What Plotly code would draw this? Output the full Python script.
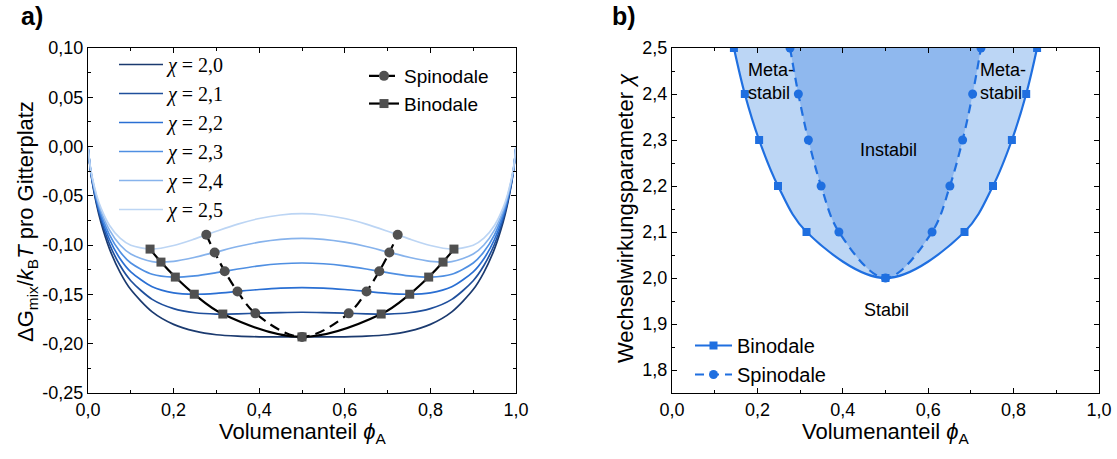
import plotly.graph_objects as go

# ---------------- Panel a: free energy of mixing ----------------
phi = [0, 0.005, 0.01, 0.02, 0.03, 0.05, 0.075, 0.1, 0.15, 0.2, 0.25, 0.3, 0.35, 0.4, 0.45, 0.5,
       0.55, 0.6, 0.65, 0.7, 0.75, 0.8, 0.85, 0.9, 0.925, 0.95, 0.97, 0.98, 0.99, 0.995, 1.0]

g_20 = [0, -0.0215, -0.0362, -0.0588, -0.0765, -0.1035, -0.1276, -0.1451, -0.1677, -0.1804, -0.1873,
        -0.1909, -0.1924, -0.1930, -0.1931, -0.1931, -0.1931, -0.1930, -0.1924, -0.1909, -0.1873,
        -0.1804, -0.1677, -0.1451, -0.1276, -0.1035, -0.0765, -0.0588, -0.0362, -0.0215, 0]
g_21 = [0, -0.0210, -0.0352, -0.0569, -0.0736, -0.0988, -0.1207, -0.1361, -0.1550, -0.1644, -0.1686,
        -0.1699, -0.1697, -0.1690, -0.1684, -0.1681, -0.1684, -0.1690, -0.1697, -0.1699, -0.1686,
        -0.1644, -0.1550, -0.1361, -0.1207, -0.0988, -0.0736, -0.0569, -0.0352, -0.0210, 0]
g_22 = [0, -0.0205, -0.0342, -0.0549, -0.0707, -0.0940, -0.1138, -0.1271, -0.1422, -0.1484, -0.1498,
        -0.1489, -0.1469, -0.1450, -0.1436, -0.1431, -0.1436, -0.1450, -0.1469, -0.1489, -0.1498,
        -0.1484, -0.1422, -0.1271, -0.1138, -0.0940, -0.0707, -0.0549, -0.0342, -0.0205, 0]
g_23 = [0, -0.0200, -0.0332, -0.0530, -0.0678, -0.0893, -0.1068, -0.1181, -0.1295, -0.1324, -0.1311,
        -0.1279, -0.1242, -0.1210, -0.1189, -0.1181, -0.1189, -0.1210, -0.1242, -0.1279, -0.1311,
        -0.1324, -0.1295, -0.1181, -0.1068, -0.0893, -0.0678, -0.0530, -0.0332, -0.0200, 0]
g_24 = [0, -0.0195, -0.0322, -0.0510, -0.0649, -0.0845, -0.0999, -0.1091, -0.1167, -0.1164, -0.1123,
        -0.1069, -0.1014, -0.0970, -0.0941, -0.0931, -0.0941, -0.0970, -0.1014, -0.1069, -0.1123,
        -0.1164, -0.1167, -0.1091, -0.0999, -0.0845, -0.0649, -0.0510, -0.0322, -0.0195, 0]
g_25 = [0, -0.0190, -0.0313, -0.0490, -0.0620, -0.0798, -0.0929, -0.1001, -0.1040, -0.1004, -0.0936,
        -0.0859, -0.0787, -0.0730, -0.0694, -0.0681, -0.0694, -0.0730, -0.0787, -0.0859, -0.0936,
        -0.1004, -0.1040, -0.1001, -0.0929, -0.0798, -0.0620, -0.0490, -0.0313, -0.0190, 0]

chi_labels = ["2,0", "2,1", "2,2", "2,3", "2,4", "2,5"]
chi_curves = [g_20, g_21, g_22, g_23, g_24, g_25]
chi_colors = ["#1b3a6f", "#1f4f9c", "#2a6fd3", "#4f8fe2", "#87b3ec", "#bcd5f4"]

# Binodal / spinodal points on the curves
bin_phi = [0.145, 0.1705, 0.204, 0.2483, 0.315, 0.5, 0.685, 0.7517, 0.796, 0.8295, 0.855]
bin_g = [-0.1040, -0.1172, -0.1324, -0.1498, -0.1699, -0.1931, -0.1699, -0.1498, -0.1324, -0.1172, -0.1040]
spin_phi = [0.2764, 0.2959, 0.3194, 0.3492, 0.3909, 0.5, 0.6091, 0.6508, 0.6806, 0.7041, 0.7236]
spin_g = [-0.0895, -0.1074, -0.1264, -0.1470, -0.1692, -0.1931, -0.1692, -0.1470, -0.1264, -0.1074, -0.0895]

# ---------------- Panel b: phase diagram ----------------
bin_chi = [2.5, 2.4, 2.3, 2.2, 2.1, 2.0, 2.1, 2.2, 2.3, 2.4, 2.5]
spin_chi = [2.5, 2.4, 2.3, 2.2, 2.1, 2.0, 2.1, 2.2, 2.3, 2.4, 2.5]

# Tick labels
x_tickvals = [0, 0.2, 0.4, 0.6, 0.8, 1.0]
x_ticktext = ["0,0", "0,2", "0,4", "0,6", "0,8", "1,0"]
ya_tickvals = [-0.25, -0.20, -0.15, -0.10, -0.05, 0.0, 0.05, 0.10]
ya_ticktext = ["-0,25", "-0,20", "-0,15", "-0,10", "-0,05", "0,00", "0,05", "0,10"]
yb_tickvals = [1.8, 1.9, 2.0, 2.1, 2.2, 2.3, 2.4, 2.5]
yb_ticktext = ["1,8", "1,9", "2,0", "2,1", "2,2", "2,3", "2,4", "2,5"]

SANS = "Arial, Liberation Sans, sans-serif"
SERIF = "Times New Roman, Liberation Serif, serif"
GRAY = "#505050"
BLUE = "#1f6fe0"

fig = go.Figure()

for lab, g, col in zip(chi_labels, chi_curves, chi_colors):
    fig.add_trace(go.Scatter(
        x=phi, y=g, mode="lines", name=f"<i>χ</i> = {lab}",
        line=dict(color=col, width=1.7, shape="spline", smoothing=0.8),
        xaxis="x", yaxis="y", legend="legend"))

fig.add_trace(go.Scatter(
    x=spin_phi, y=spin_g, mode="lines+markers", name="Spinodale",
    line=dict(color="black", width=2.2, dash="10px,6px", shape="spline"),
    marker=dict(symbol="circle", size=10, color=GRAY),
    xaxis="x", yaxis="y", legend="legend2"))
fig.add_trace(go.Scatter(
    x=bin_phi, y=bin_g, mode="lines+markers", name="Binodale",
    line=dict(color="black", width=2.2, shape="spline"),
    marker=dict(symbol="square", size=9, color=GRAY),
    xaxis="x", yaxis="y", legend="legend2"))

# Panel b: shaded regions
fig.add_trace(go.Scatter(
    x=bin_phi, y=bin_chi, mode="lines", fill="toself", fillcolor="#bcd6f5",
    line=dict(width=0, shape="spline"), showlegend=False, hoverinfo="skip",
    xaxis="x2", yaxis="y2"))
fig.add_trace(go.Scatter(
    x=spin_phi, y=spin_chi, mode="lines", fill="toself", fillcolor="#8fb8ee",
    line=dict(width=0, shape="spline"), showlegend=False, hoverinfo="skip",
    xaxis="x2", yaxis="y2"))
fig.add_trace(go.Scatter(
    x=bin_phi, y=bin_chi, mode="lines+markers", name="Binodale",
    line=dict(color=BLUE, width=2.2, shape="spline"),
    marker=dict(symbol="square", size=8, color=BLUE),
    xaxis="x2", yaxis="y2", legend="legend3"))
fig.add_trace(go.Scatter(
    x=spin_phi, y=spin_chi, mode="lines+markers", name="Spinodale",
    line=dict(color=BLUE, width=2.2, dash="9px,6px", shape="spline"),
    marker=dict(symbol="circle", size=9, color=BLUE),
    xaxis="x2", yaxis="y2", legend="legend3"))

W, H = 1117, 459


def px(x):
    return x / W


def py(y):
    return 1 - y / H


axis_common = dict(
    showline=True, linecolor="black", linewidth=1.3, mirror="ticks",
    ticks="inside", ticklen=5, tickwidth=1.2, tickcolor="black",
    showgrid=False, zeroline=False, automargin=False,
    tickfont=dict(family=SANS, size=18, color="black"),
)

fig.update_layout(
    width=W, height=H,
    margin=dict(l=0, r=0, t=0, b=0, pad=0, autoexpand=False),
    paper_bgcolor="white", plot_bgcolor="white",
    font=dict(family=SANS, color="black"),
    xaxis=dict(domain=[px(88), px(516)], range=[0, 1], anchor="y",
               tickvals=x_tickvals, ticktext=x_ticktext,
               minor=dict(ticks="inside", ticklen=3, dtick=0.1, tickcolor="black"),
               **axis_common),
    yaxis=dict(domain=[py(393), py(48)], range=[-0.25, 0.10], anchor="x",
               tickvals=ya_tickvals, ticktext=ya_ticktext,
               minor=dict(ticks="inside", ticklen=3, dtick=0.025, tickcolor="black"),
               **axis_common),
    xaxis2=dict(domain=[px(672), px(1099)], range=[0, 1], anchor="y2",
                tickvals=x_tickvals, ticktext=x_ticktext,
                minor=dict(ticks="inside", ticklen=3, dtick=0.1, tickcolor="black"),
                **axis_common),
    yaxis2=dict(domain=[py(393), py(48)], range=[1.75, 2.5], anchor="x2",
                tickvals=yb_tickvals, ticktext=yb_ticktext,
                minor=dict(ticks="inside", ticklen=3, dtick=0.05, tickcolor="black"),
                **axis_common),
    legend=dict(x=px(114), y=py(45), xanchor="left", yanchor="top",
                bgcolor="rgba(0,0,0,0)", font=dict(family=SERIF, size=20),
                itemwidth=44, tracegroupgap=0),
    legend2=dict(x=px(364), y=py(57), xanchor="left", yanchor="top",
                 bgcolor="rgba(0,0,0,0)", font=dict(family=SANS, size=19)),
    legend3=dict(x=px(690), y=py(326), xanchor="left", yanchor="top",
                 bgcolor="rgba(0,0,0,0)", font=dict(family=SANS, size=20),
                 itemwidth=37),
)

annotations = [
    dict(text="<b>a)</b>", x=px(19), y=py(16), xanchor="left", yanchor="middle",
         font=dict(size=25)),
    dict(text="<b>b)</b>", x=px(610), y=py(16), xanchor="left", yanchor="middle",
         font=dict(size=25)),
    dict(text="Volumenanteil <i>ϕ</i><sub>A</sub>", x=px(303), y=py(433),
         xanchor="center", yanchor="middle", font=dict(size=22)),
    dict(text="Volumenanteil <i>ϕ</i><sub>A</sub>", x=px(886), y=py(433),
         xanchor="center", yanchor="middle", font=dict(size=22)),
    dict(text="ΔG<sub>mix</sub>/<i>k</i><sub>B</sub><i>T</i> pro Gitterplatz",
         x=px(27), y=py(222), xanchor="center", yanchor="middle", textangle=-90,
         font=dict(size=22)),
    dict(text="Wechselwirkungsparameter <i>χ</i>", x=px(626), y=py(218),
         xanchor="center", yanchor="middle", textangle=-90, font=dict(size=22)),
    dict(text="Meta-<br>stabil", x=px(771), y=py(82), xanchor="center",
         yanchor="middle", font=dict(size=18), align="left"),
    dict(text="Meta-<br>stabil", x=px(1003), y=py(82), xanchor="center",
         yanchor="middle", font=dict(size=18), align="left"),
    dict(text="Instabil", x=px(888), y=py(150), xanchor="center",
         yanchor="middle", font=dict(size=18)),
    dict(text="Stabil", x=px(886), y=py(310), xanchor="center",
         yanchor="middle", font=dict(size=18)),
]
for a in annotations:
    a.update(xref="paper", yref="paper", showarrow=False)
fig.update_layout(annotations=annotations)

fig.write_html("out.html")
